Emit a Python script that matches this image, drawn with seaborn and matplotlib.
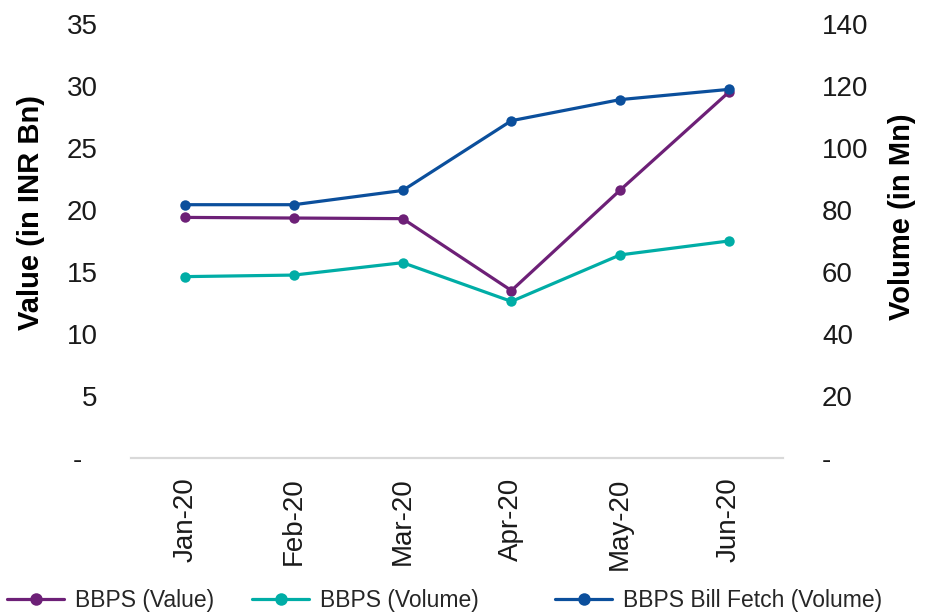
import matplotlib
matplotlib.use("Agg")
import matplotlib.pyplot as plt
import pandas as pd
import seaborn as sns

months = ["Jan-20", "Feb-20", "Mar-20", "Apr-20", "May-20", "Jun-20"]
bbps_value = [19.4, 19.35, 19.3, 13.5, 21.6, 29.5]          # INR Bn, left axis
bbps_volume = [58.5, 59.0, 63.0, 50.5, 65.5, 70.0]          # Mn, right axis
bill_fetch_volume = [81.7, 81.7, 86.3, 108.8, 115.6, 118.9]  # Mn, right axis

left_ticks = [0, 5, 10, 15, 20, 25, 30, 35]
left_labels = ["-  ", "5", "10", "15", "20", "25", "30", "35"]
right_ticks = [0, 20, 40, 60, 80, 100, 120, 140]
right_labels = ["-", "20", "40", "60", "80", "100", "120", "140"]

PURPLE = "#6D2077"
TEAL = "#00ADA6"
BLUE = "#0B4F9C"

sns.set_theme(style="white")
plt.rcParams["font.family"] = ["Liberation Sans", "DejaVu Sans"]

df = pd.DataFrame({"Month": months, "Value": bbps_value,
                   "Volume": bbps_volume, "Fetch": bill_fetch_volume})

fig = plt.figure(figsize=(9.29, 6.13), dpi=100)
ax1 = fig.add_axes([0.141, 0.2529, 0.702, 0.708])
ax2 = ax1.twinx()

line_kw = dict(marker="o", markersize=7.5, linewidth=2.3, markeredgewidth=0)
sns.lineplot(data=df, x="Month", y="Value", ax=ax1, color=PURPLE,
             label="BBPS (Value)", sort=False, **line_kw)
sns.lineplot(data=df, x="Month", y="Volume", ax=ax2, color=TEAL,
             label="BBPS (Volume)", sort=False, **line_kw)
sns.lineplot(data=df, x="Month", y="Fetch", ax=ax2, color=BLUE,
             label="BBPS Bill Fetch (Volume)", sort=False, **line_kw)

ax1.set_xlim(-0.5, 5.5)
ax1.set_ylim(0, 35)
ax2.set_ylim(0, 140)
ax1.set_yticks(left_ticks)
ax1.set_yticklabels(left_labels)
ax2.set_yticks(right_ticks)
ax2.set_yticklabels(right_labels)

for ax in (ax1, ax2):
    for s in ["top", "left", "right"]:
        ax.spines[s].set_visible(False)
    ax.spines["bottom"].set_color("#d9d9d9")
    ax.spines["bottom"].set_linewidth(1.5)
    ax.grid(False)
    ax.tick_params(length=0, labelsize=20, colors="#1a1a1a")

ax1.tick_params(axis="y", pad=24)
ax2.tick_params(axis="y", pad=28)
ax1.tick_params(axis="x", pad=14)
plt.setp(ax1.get_xticklabels(), rotation=90, fontsize=20)

ax1.set_xlabel("")
ax1.set_ylabel("Value (in INR Bn)", fontsize=21, fontweight="bold", color="black")
ax2.set_ylabel("Volume (in Mn)", fontsize=21, fontweight="bold", color="black")
ax1.yaxis.set_label_coords(-0.132, 0.565)
ax2.yaxis.set_label_coords(1.161, 0.555)

h1, l1 = ax1.get_legend_handles_labels()
h2, l2 = ax2.get_legend_handles_labels()
ax1.get_legend().remove()
ax2.get_legend().remove()

# Excel-style legend: each entry placed in its own slot along the bottom
legend_x = [7 / 929, 252 / 929, 555 / 929]
for h, l, x in zip(h1 + h2, l1 + l2, legend_x):
    leg = fig.legend([h], [l], loc="center left", bbox_to_anchor=(x, 0.0196),
                     frameon=False, borderpad=0, borderaxespad=0,
                     handlelength=2.5, handletextpad=0.45, markerscale=1.2,
                     prop={"size": 16.5})
    for t in leg.get_texts():
        t.set_color("#262626")

fig.savefig("out.png", dpi=100)
